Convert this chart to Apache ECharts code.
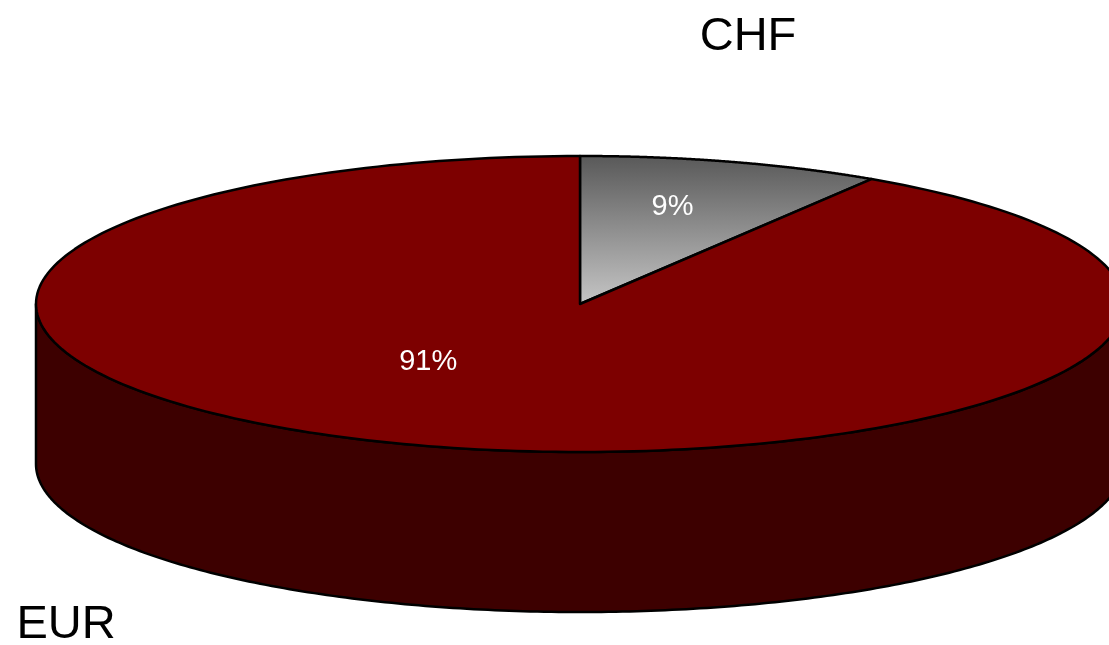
<!DOCTYPE html>
<html><head><meta charset="utf-8">
<script src="https://cdn.jsdelivr.net/npm/echarts@6/dist/echarts.min.js"></script>
<style>html,body{margin:0;padding:0;background:#fff;overflow:hidden}#c{width:1109px;height:645px}</style>
</head><body><div id="c"></div>
<script>
// Data
const categories = ['CHF', 'EUR'];
const values = [9, 91];

// Styles (not data)
const topColors = [
  {type:'linear', x:0, y:0, x2:0, y2:1, colorStops:[{offset:0, color:'#585858'},{offset:1, color:'#c6c6c6'}]},
  '#7d0000'
];
const wallColors = ['#3a3a3a', '#3d0000'];
const pctPos = [[0.61, 0.68], [1.0, 0.41]];      // label placement factors
const nameOffset = [[168, -267], [-514, 321]];   // category label offsets from pie centre

const chart = echarts.init(document.getElementById('c'), null, {renderer:'canvas'});
const total = values.reduce((a, b) => a + b, 0);

function renderItem(params, api) {
  const i = params.dataIndex;
  const cx = 580, cy = 304, rx = 544, ry = 148, depth = 160;
  let before = 0;
  for (let k = 0; k < i; k++) before += values[k];
  const v = api.value(1);
  const a0 = before / total * 2 * Math.PI;
  const a1 = (before + v) / total * 2 * Math.PI;
  const pt = (t, dz) => [cx + rx * Math.sin(t), cy - ry * Math.cos(t) + (dz || 0)];
  const N = 240;
  const children = [];

  // visible front wall: intersection of [a0,a1] with [PI/2, 3PI/2]
  const w0 = Math.max(a0, Math.PI / 2), w1 = Math.min(a1, 3 * Math.PI / 2);
  if (w1 > w0) {
    const pts = [];
    for (let s = 0; s <= N; s++) pts.push(pt(w0 + (w1 - w0) * s / N, 0));
    for (let s = N; s >= 0; s--) pts.push(pt(w0 + (w1 - w0) * s / N, depth));
    children.push({type:'polygon', shape:{points:pts},
      style:{fill:wallColors[i], stroke:'#000', lineWidth:2.5, lineJoin:'round'}});
  }

  // top sector
  const tp = [[cx, cy]];
  for (let s = 0; s <= N; s++) tp.push(pt(a0 + (a1 - a0) * s / N, 0));
  children.push({type:'polygon', shape:{points:tp},
    style:{fill:topColors[i], stroke:'#000', lineWidth:2.5, lineJoin:'round'}});

  // percentage label
  const mid = (a0 + a1) / 2;
  const pct = Math.round(v / total * 100) + '%';
  children.push({type:'text', style:{
    text:pct, x: cx + rx * Math.sin(mid) * pctPos[i][0], y: cy - ry * Math.cos(mid) * pctPos[i][1],
    fill:'#ffffff', font:'29px "Liberation Sans", Arial, sans-serif',
    align:'center', verticalAlign:'middle', textAlign:'center', textVerticalAlign:'middle'}});

  // category label
  children.push({type:'text', style:{
    text: categories[i],
    x: cx + nameOffset[i][0], y: cy + nameOffset[i][1],
    fill:'#000000', font:'47px "Liberation Sans", Arial, sans-serif',
    align:'center', verticalAlign:'middle', textAlign:'center', textVerticalAlign:'middle'}});

  return {type:'group', children};
}

chart.setOption({
  animation:false,
  backgroundColor:'#ffffff',
  series:[{
    type:'custom',
    coordinateSystem:'none',
    renderItem,
    data: categories.map((c, i) => [i, values[i]])
  }]
});
</script></body></html>
